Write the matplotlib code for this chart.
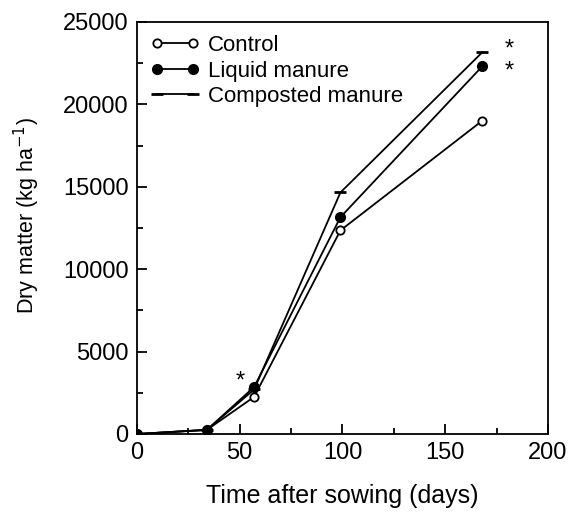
import matplotlib
matplotlib.use('Agg')
import matplotlib.pyplot as plt
from matplotlib.ticker import MultipleLocator

plt.rcParams['font.family'] = ['Liberation Sans', 'DejaVu Sans']

# days after sowing
days = [0, 34, 57, 99, 168]
# dry matter, kg/ha
control = [0, 250, 2250, 12350, 19000]
liquid = [0, 250, 2850, 13150, 22300]
composted = [0, 250, 2700, 14650, 23150]

# significance markers
star_x = [50, 181, 181]
star_y = [3200, 23300, 22000]

fig = plt.figure(figsize=(5.78, 5.21), dpi=100)
ax = fig.add_axes([0.237, 0.167, 0.711, 0.791])

ax.plot(days, control, color='black', lw=1.3, marker='o', ms=6,
        mfc='white', mec='black', mew=1.3, label='Control')
ax.plot(days, liquid, color='black', lw=1.3, marker='o', ms=7,
        mfc='black', mec='black', label='Liquid manure')
ax.plot(days, composted, color='black', lw=1.3, marker='_', ms=9,
        mew=2, mec='black', label='Composted manure')

for sx, sy in zip(star_x, star_y):
    ax.text(sx, sy, '*', fontsize=17, ha='center', va='center')

ax.set_xlim(0, 200)
ax.set_ylim(0, 25000)
ax.xaxis.set_major_locator(MultipleLocator(50))
ax.xaxis.set_minor_locator(MultipleLocator(25))
ax.yaxis.set_major_locator(MultipleLocator(5000))
ax.yaxis.set_minor_locator(MultipleLocator(2500))
ax.tick_params(which='both', direction='in', labelsize=17, width=1.3)
ax.tick_params(which='major', length=7, pad=6)
ax.tick_params(which='minor', length=4)
for s in ax.spines.values():
    s.set_linewidth(1.3)

ax.set_xlabel('Time after sowing (days)', fontsize=18, labelpad=14)
ax.set_ylabel('Dry matter (kg ha$^{-1}$)', fontsize=15.5)
ax.yaxis.set_label_coords(-0.23, 0.53)

ax.legend(loc='upper left', frameon=False, fontsize=16, numpoints=2,
          handlelength=2.2, handletextpad=0.4, borderaxespad=0.2,
          labelspacing=0.2)

fig.savefig('out.png', dpi=100)
